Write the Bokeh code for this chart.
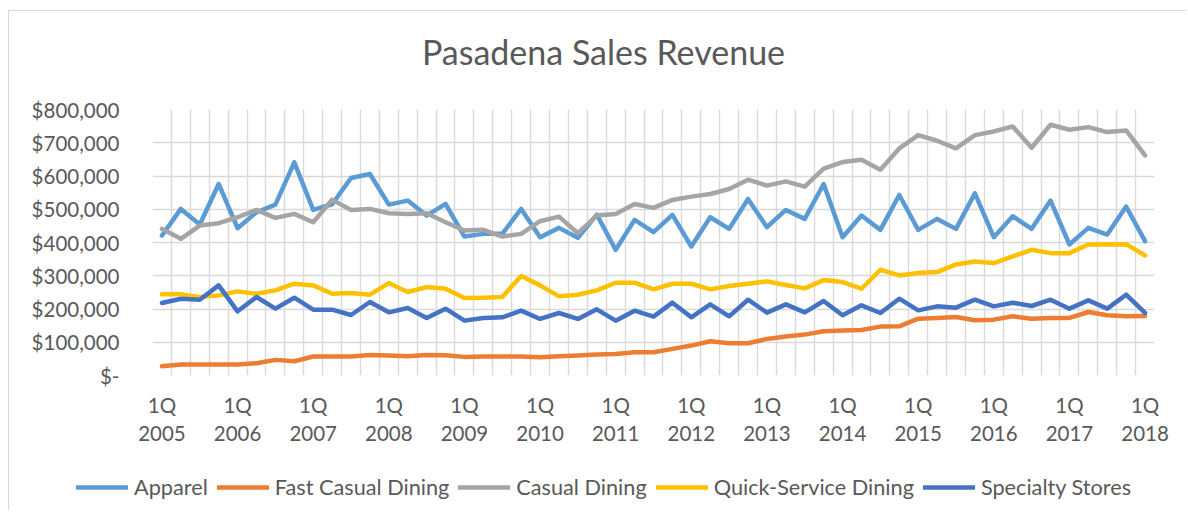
from bokeh.plotting import figure
from bokeh.models import FixedTicker, Legend, LegendItem, Range1d, Label
from bokeh.embed import file_html
from bokeh.resources import INLINE

# ---------------- data (values in $ thousands) ----------------
years = list(range(2005, 2019))
quarters = [f"{q}Q {y}" for y in years for q in (1, 2, 3, 4)][:53]

apparel = [421, 501, 454, 576, 443, 491, 514, 641, 498, 515, 594, 606, 514, 526, 481, 516, 418, 426,
           426, 501, 416, 444, 414, 484, 378, 468, 431, 483, 388, 476, 441, 531, 446, 498, 471, 576,
           416, 481, 438, 543, 438, 471, 441, 548, 416, 479, 441, 526, 394, 444, 424, 508, 404]
fast_casual = [28, 33, 33, 33, 33, 37, 47, 43, 57, 57, 57, 62, 60, 58, 62, 61, 56, 57,
               57, 57, 55, 58, 60, 63, 65, 70, 70, 80, 90, 103, 97, 97, 110, 117, 123, 133,
               135, 137, 147, 148, 171, 173, 176, 166, 168, 178, 171, 173, 173, 191, 181, 178, 179]
casual = [441, 411, 451, 458, 476, 498, 474, 486, 461, 529, 498, 501, 488, 486, 488, 461, 436, 438,
          418, 426, 464, 478, 428, 481, 486, 516, 504, 528, 538, 546, 561, 589, 571, 584, 568, 622,
          642, 649, 619, 683, 723, 706, 683, 723, 734, 749, 685, 754, 739, 747, 732, 737, 662]
quick_service = [244, 244, 236, 241, 253, 246, 256, 276, 271, 246, 248, 243, 278, 251, 266, 261, 233, 234,
                 236, 299, 271, 238, 243, 256, 279, 279, 259, 276, 276, 259, 269, 276, 283, 272, 262, 287,
                 281, 261, 318, 301, 308, 311, 334, 343, 338, 358, 378, 368, 368, 394, 394, 395, 361]
specialty = [218, 231, 228, 271, 193, 236, 201, 234, 198, 198, 182, 221, 190, 203, 173, 201, 165, 173,
             175, 195, 170, 188, 170, 199, 165, 195, 177, 219, 175, 214, 178, 228, 189, 214, 190, 224,
             181, 211, 188, 231, 196, 208, 204, 228, 208, 219, 209, 228, 201, 226, 201, 243, 188]

series_names = ["Apparel", "Fast Casual Dining", "Casual Dining", "Quick-Service Dining", "Specialty Stores"]
series_values = [apparel, fast_casual, casual, quick_service, specialty]
series_colors = ["#5B9BD5", "#ED7D31", "#A5A5A5", "#FFC000", "#4472C4"]

y_ticks = [0, 100000, 200000, 300000, 400000, 500000, 600000, 700000, 800000]
y_tick_labels = ["$-", "$100,000", "$200,000", "$300,000", "$400,000",
                 "$500,000", "$600,000", "$700,000", "$800,000"]
title_text = "Pasadena Sales Revenue"

# ---------------- styling ----------------
FONT = "Lato"
TEXT = "#595959"
GRID = "#D9D9D9"
BORDER = "1px solid #D9D9D9"
W = 1178
TITLE_H, MAIN_H, LEG_H = 70, 370, 60


def blank_fig(h):
    f = figure(width=W, height=h, output_backend="svg", toolbar_location=None,
               x_range=Range1d(0, W), y_range=Range1d(0, h),
               x_axis_location=None, y_axis_location=None, min_border=0)
    f.outline_line_color = None
    f.grid.visible = False
    f.background_fill_color = "white"
    f.border_fill_color = "white"
    return f


n = len(quarters)
x_idx = list(range(n))

# ---- title strip ----
pt = blank_fig(TITLE_H)
pt.add_layout(Label(x=594, y=30, text=title_text, text_align="center", text_baseline="alphabetic",
                    text_font=FONT, text_font_size="34px", text_color=TEXT))
pt.margin = (10, 0, 0, 8)
pt.styles = {"border-top": BORDER, "border-left": BORDER}

# ---- main chart ----
p = figure(width=W, height=MAIN_H, output_backend="svg", toolbar_location=None,
           x_range=Range1d(-0.5, n - 0.5), y_range=Range1d(0, 800000),
           min_border_left=143, min_border_right=33, min_border_top=29, min_border_bottom=75)
p.outline_line_color = None
p.background_fill_color = "white"
p.border_fill_color = "white"
p.margin = (0, 0, 0, 8)
p.styles = {"border-left": BORDER}

p.ygrid.ticker = FixedTicker(ticks=y_ticks)
p.ygrid.grid_line_color = GRID
p.ygrid.grid_line_width = 1.4
p.xgrid.ticker = FixedTicker(ticks=[i - 0.5 for i in range(n + 1)])
p.xgrid.grid_line_color = GRID
p.xgrid.grid_line_width = 1.4

p.xaxis.ticker = FixedTicker(ticks=list(range(0, n, 4)))
p.xaxis.major_label_overrides = {i: quarters[i].replace(" ", "\n") for i in range(0, n, 4)}
p.yaxis.ticker = FixedTicker(ticks=y_ticks)
p.yaxis.major_label_overrides = {t: l for t, l in zip(y_ticks, y_tick_labels)}
for ax in (p.xaxis, p.yaxis):
    ax.axis_line_color = None
    ax.major_tick_line_color = None
    ax.minor_tick_line_color = None
    ax.major_tick_out = 0
    ax.major_label_text_font = FONT
    ax.major_label_text_font_size = "20.5px"
    ax.major_label_text_color = TEXT
p.xaxis.major_label_standoff = 17
p.yaxis.major_label_standoff = 33

for name, vals, col in zip(series_names, series_values, series_colors):
    p.line(x_idx, [v * 1000 for v in vals], line_color=col, line_width=4.5,
           line_join="round", line_cap="round")

# ---- legend strip ----
pl = blank_fig(LEG_H)
pl.margin = (0, 0, 0, 8)
pl.styles = {"border-left": BORDER}
items = []
for name, col in zip(series_names, series_colors):
    r = pl.line(x=[float("nan")], y=[float("nan")], line_color=col, line_width=4.5, line_cap="round")
    items.append(LegendItem(label=name, renderers=[r]))
legend = Legend(items=items, orientation="horizontal", location=(67, 10),
                glyph_width=52, glyph_height=20, label_standoff=6, spacing=9,
                padding=0, margin=0, border_line_color=None, background_fill_alpha=0,
                label_text_font=FONT, label_text_font_size="21.7px", label_text_color=TEXT)
pl.add_layout(legend)

open("out.html", "w").write(file_html([pt, p, pl], INLINE))
